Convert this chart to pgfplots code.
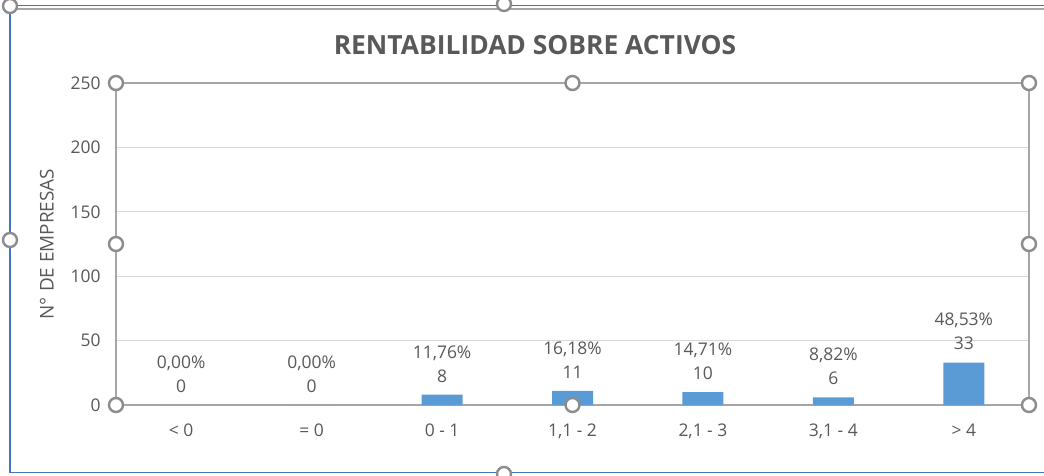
\documentclass[border=0pt]{standalone}
\usepackage{fontspec}
\setmainfont{Open Sans}
\usepackage{pgfplots}
\usepackage{pgfplotstable}
\pgfplotsset{compat=1.18}

\definecolor{bar}{HTML}{5B9BD5}
\definecolor{txt}{HTML}{595959}
\definecolor{frame}{HTML}{A6A6A6}
\definecolor{knob}{HTML}{8C8C8C}
\definecolor{gridc}{HTML}{D9D9D9}
\definecolor{sel}{HTML}{4472C4}

\pgfplotstableread{
x y label
0 0  {0,00\%\\0}
1 0  {0,00\%\\0}
2 8  {11,76\%\\8}
3 11 {16,18\%\\11}
4 10 {14,71\%\\10}
5 6  {8,82\%\\6}
6 33 {48,53\%\\33}
}\roadata

\tikzset{handle/.style={circle, draw=knob, line width=2.4bp, fill=white, minimum size=14bp, inner sep=0pt}}

\begin{document}
\begin{tikzpicture}
\clip (0,0) rectangle (1044bp,-476bp);
\fill[white] (0,0) rectangle (1044bp,-476bp);
% chart area frame (selected)
\draw[frame, line width=1.2bp] (10bp,-9bp) -- (1050bp,-9bp);
\draw[sel, line width=1.6bp] (1100bp,-5.5bp) -- (10bp,-5.5bp) -- (10bp,-472.5bp) -- (1100bp,-472.5bp);
\node[handle] at (10bp,-6bp) {};
\node[handle] at (504bp,-4bp) {};
\node[handle] at (10bp,-240bp) {};
\node[handle] at (504bp,-474bp) {};

\node[font=\fontsize{26.5}{30}\selectfont\bfseries, text=txt] at (535bp,-45bp) {RENTABILIDAD SOBRE ACTIVOS};

\begin{axis}[
    at={(116bp,-405bp)}, anchor=south west,
    scale only axis,
    width=913bp, height=322bp,
    ybar, bar width=41bp,
    xmin=-0.5, xmax=6.5,
    ymin=0, ymax=250,
    ytick={0,50,...,250},
    xtick=data,
    xticklabels={{< 0},{= 0},{0 - 1},{1,1 - 2},{2,1 - 3},{3,1 - 4},{> 4}},
    ymajorgrids, grid style={gridc, line width=1bp},
    axis line style={frame, line width=1.6bp},
    tick style={draw=none},
    ticklabel style={font=\fontsize{17.5}{20}\selectfont, text=txt},
    /pgf/number format/assume math mode=true,
    xticklabel style={yshift=-11bp},
    yticklabel style={xshift=-12bp},
    ylabel={N° DE EMPRESAS},
    ylabel style={font=\fontsize{19}{22}\selectfont, text=txt},
    ylabel shift=10bp,
    point meta=explicit symbolic,
    nodes near coords,
    nodes near coords style={font=\fontsize{17.5}{24}\selectfont, text=txt, align=center, anchor=south, yshift=9bp},
    clip=false,
]
\addplot[fill=bar, draw=none] table[x=x, y=y, meta=label] {\roadata};
\node[handle] at (rel axis cs:0,1) {};
\node[handle] at (rel axis cs:0.5,1) {};
\node[handle] at (rel axis cs:1,1) {};
\node[handle] at (rel axis cs:0,0.5) {};
\node[handle] at (rel axis cs:1,0.5) {};
\node[handle] at (rel axis cs:0,0) {};
\node[handle] at (rel axis cs:0.5,0) {};
\node[handle] at (rel axis cs:1,0) {};
\end{axis}
\end{tikzpicture}
\end{document}
